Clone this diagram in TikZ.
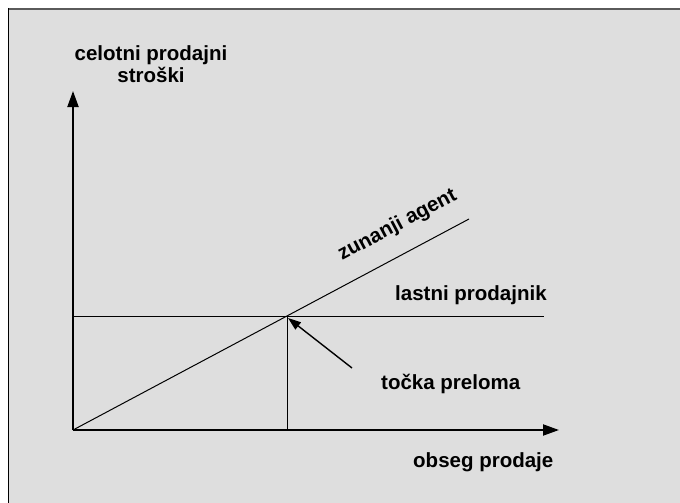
\documentclass[tikz,border=0pt]{standalone}
\usepackage{fontspec}
\setmainfont{Liberation Sans}
\usetikzlibrary{arrows.meta}
\definecolor{panel}{HTML}{DEDEDE}
\definecolor{rim}{HTML}{5A5A5A}
\begin{document}
\begin{tikzpicture}[x=1pt,y=-1pt,
  axis/.style={line width=2pt,-{Triangle[length=16pt,width=11pt]}},
  curve/.style={line width=1pt},
  pointer/.style={line width=1.4pt,-{Triangle[length=13pt,width=9pt]}},
  lbl/.style={font=\fontsize{20.5}{21}\selectfont\bfseries,inner sep=0pt,anchor=base west}]
  % canvas and panel
  \useasboundingbox (0,0) rectangle (680,503);
  \fill[white] (0,0) rectangle (680,503);
  \fill[panel] (8,8) rectangle (680,503);
  \draw[rim,line width=2pt] (8,9) -- (680,9);
  \draw[black,line width=1.5pt] (8.5,8) -- (8.5,503);

  % key points
  \coordinate (O) at (73,430);
  \coordinate (ytip) at (73,91);
  \coordinate (xtip) at (559,430);
  \coordinate (hstart) at (73,316);
  \coordinate (hend) at (544,316);
  \coordinate (dend) at (469,219);
  \coordinate (bp) at (287,316);
  \coordinate (bfoot) at (287,430);
  \coordinate (pstart) at (352,368);

  % lines
  \draw[curve] (hstart) -- (hend);
  \draw[curve] (O) -- (dend);
  \draw[curve] (bp) -- (bfoot);
  \draw[axis] (O) -- (ytip);
  \draw[axis] (O) -- (xtip);
  \draw[pointer] (pstart) -- ([shift={(1,2)}]bp);

  % labels
  \node[lbl,anchor=base,align=center] (ylab) at (151,82) {celotni prodajni\\stroški};
  \node[lbl] (xlab) at (413,467) {obseg prodaje};
  \node[lbl] (hlab) at (395,300) {lastni prodajnik};
  \node[lbl,anchor=base,rotate=28] (dlab) at (400,230) {zunanji agent};
  \node[lbl] (plab) at (381,389) {točka preloma};
\end{tikzpicture}
\end{document}
